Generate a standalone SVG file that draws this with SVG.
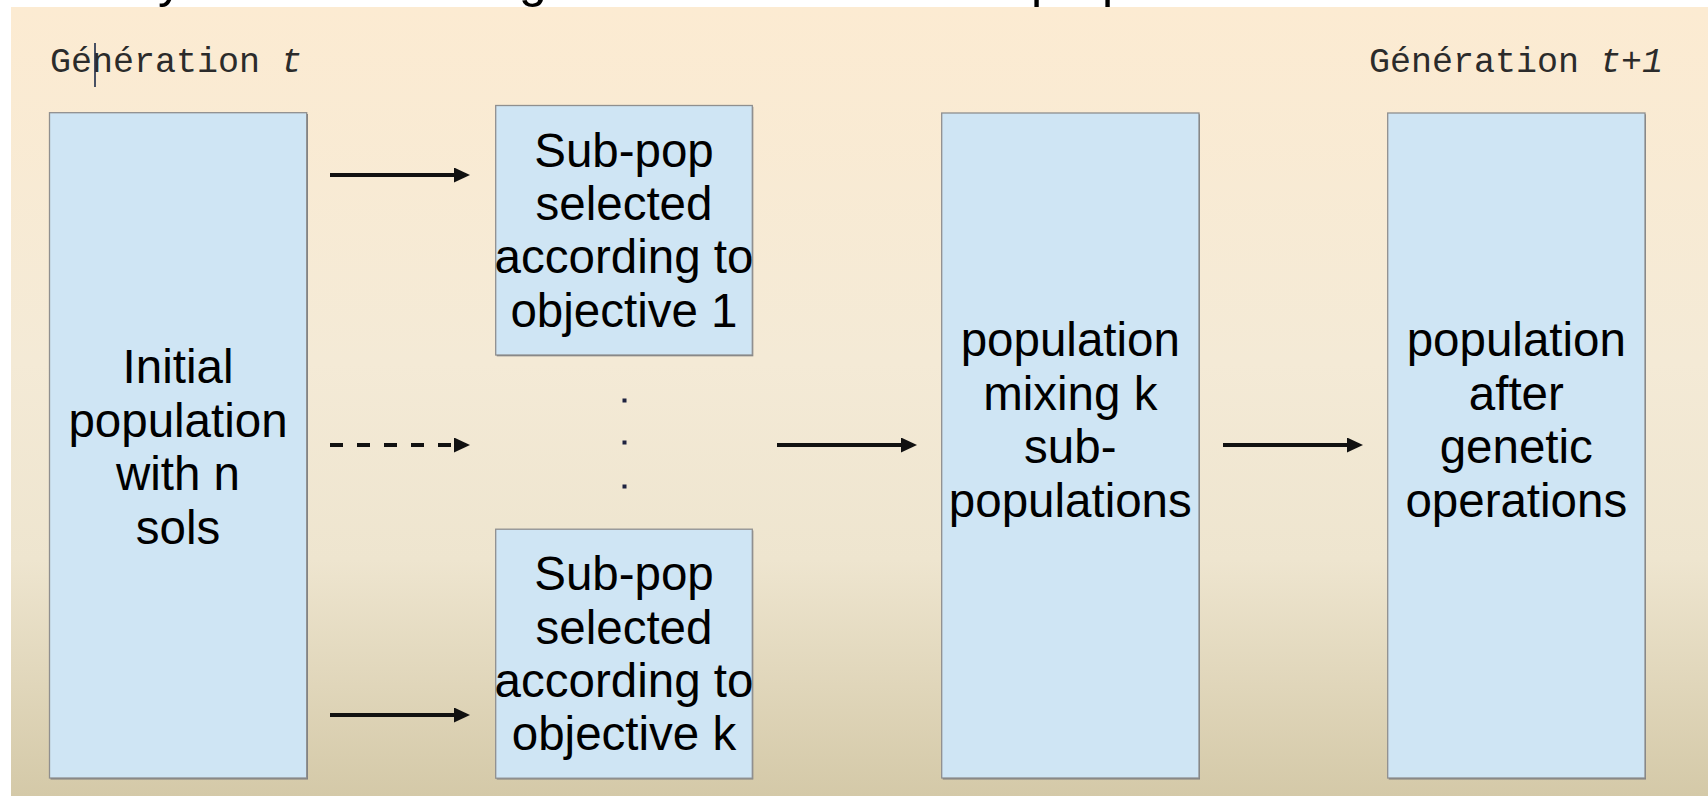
<svg xmlns="http://www.w3.org/2000/svg" width="1708" height="796" viewBox="0 0 1708 796">
  <style>
    .box { fill: #cfe5f4; stroke: #8f8f8f; stroke-width: 1.3; }
    .shadow { fill: #7d7d7d; }
    .label { font-family: "Liberation Sans", Arial, sans-serif; font-size: 47.5px; fill: #000; text-anchor: middle; }
    .gen { font-family: "Liberation Mono", "Courier New", monospace; font-size: 35px; fill: #2b2b2b; }
    .title { font-family: "Liberation Sans", Arial, sans-serif; font-size: 50px; fill: #000; }
    .conn { stroke: #111; stroke-width: 4.2; fill: none; }
    .dashed { stroke-dasharray: 13 14; }
  </style>
  <defs>
    <linearGradient id="bg" x1="0" y1="0" x2="0" y2="1">
      <stop offset="0" stop-color="#fcebd2"/>
      <stop offset="0.45" stop-color="#f4ead6"/>
      <stop offset="0.7" stop-color="#eee5cf"/>
      <stop offset="1" stop-color="#d4c9a8"/>
    </linearGradient>
    <marker id="head" markerUnits="userSpaceOnUse" markerWidth="16" markerHeight="15" refX="1" refY="7.5" orient="auto">
      <path d="M0,0 L16,7.5 L0,15 Z" fill="#111"/>
    </marker>
  </defs>

  <!-- page background and the heading line that runs off the top edge -->
  <rect x="0" y="0" width="1708" height="796" fill="#ffffff"/>
  <text class="title" y="-3"><tspan x="158">y</tspan><tspan x="519">g</tspan><tspan x="1031">p</tspan><tspan x="1102">p</tspan></text>
  <rect x="11" y="7" width="1697" height="789" fill="url(#bg)"/>

  <!-- generation captions -->
  <g id="gen-t">
    <text class="gen" x="50" y="72">Génération <tspan font-style="italic">t</tspan></text>
    <line x1="95" y1="43" x2="95" y2="87" stroke="#1c2a48" stroke-width="1.6"/>
  </g>
  <g id="gen-t1">
    <text class="gen" x="1369" y="72">Génération <tspan font-style="italic">t+1</tspan></text>
  </g>

  <!-- initial population -->
  <g id="initial">
    <rect class="shadow" x="50.5" y="114" width="257.5" height="665.5"/>
    <rect class="box" x="49.5" y="112.7" width="257.2" height="665.3"/>
    <text class="label" x="178" y="383">Initial</text>
    <text class="label" x="178" y="436.5">population</text>
    <text class="label" x="178" y="490">with n</text>
    <text class="label" x="178" y="543.5">sols</text>
  </g>

  <!-- sub-population for objective 1 -->
  <g id="subpop-1">
    <rect class="shadow" x="496.7" y="106.8" width="256.6" height="249.5"/>
    <rect class="box" x="495.7" y="105.5" width="256.6" height="249.5"/>
    <text class="label" x="624" y="166.5">Sub-pop</text>
    <text class="label" x="624" y="220">selected</text>
    <text class="label" x="624" y="273.3">according to</text>
    <text class="label" x="624" y="326.6">objective 1</text>
  </g>

  <!-- ellipsis between the sub-populations -->
  <g id="ellipsis" fill="#1e2340">
    <rect x="622.5" y="398.5" width="4" height="4"/>
    <rect x="622.5" y="440.5" width="4" height="4"/>
    <rect x="622.5" y="484.5" width="4" height="4"/>
  </g>

  <!-- sub-population for objective k -->
  <g id="subpop-k">
    <rect class="shadow" x="496.7" y="530.5" width="256.6" height="249"/>
    <rect class="box" x="495.7" y="529.2" width="256.6" height="249"/>
    <text class="label" x="624" y="590.2">Sub-pop</text>
    <text class="label" x="624" y="643.7">selected</text>
    <text class="label" x="624" y="697">according to</text>
    <text class="label" x="624" y="750.3">objective k</text>
  </g>

  <!-- mixed population -->
  <g id="mixing">
    <rect class="shadow" x="942.7" y="114.3" width="257.3" height="665.2"/>
    <rect class="box" x="941.7" y="113" width="257.3" height="665"/>
    <text class="label" x="1070.3" y="356.3">population</text>
    <text class="label" x="1070.3" y="409.8">mixing k</text>
    <text class="label" x="1070.3" y="463.3">sub-</text>
    <text class="label" x="1070.3" y="516.8">populations</text>
  </g>

  <!-- next generation -->
  <g id="after">
    <rect class="shadow" x="1388.7" y="114.3" width="257.3" height="665.2"/>
    <rect class="box" x="1387.7" y="113" width="257.3" height="665"/>
    <text class="label" x="1516.3" y="356.3">population</text>
    <text class="label" x="1516.3" y="409.8">after</text>
    <text class="label" x="1516.3" y="463.3">genetic</text>
    <text class="label" x="1516.3" y="516.8">operations</text>
  </g>

  <!-- connectors -->
  <g id="connectors">
    <line class="conn" x1="330" y1="175" x2="455" y2="175" marker-end="url(#head)"/>
    <line class="conn dashed" x1="330" y1="445" x2="455" y2="445" marker-end="url(#head)"/>
    <line class="conn" x1="330" y1="715" x2="455" y2="715" marker-end="url(#head)"/>
    <line class="conn" x1="777" y1="445" x2="902" y2="445" marker-end="url(#head)"/>
    <line class="conn" x1="1223" y1="445" x2="1348" y2="445" marker-end="url(#head)"/>
  </g>
</svg>
